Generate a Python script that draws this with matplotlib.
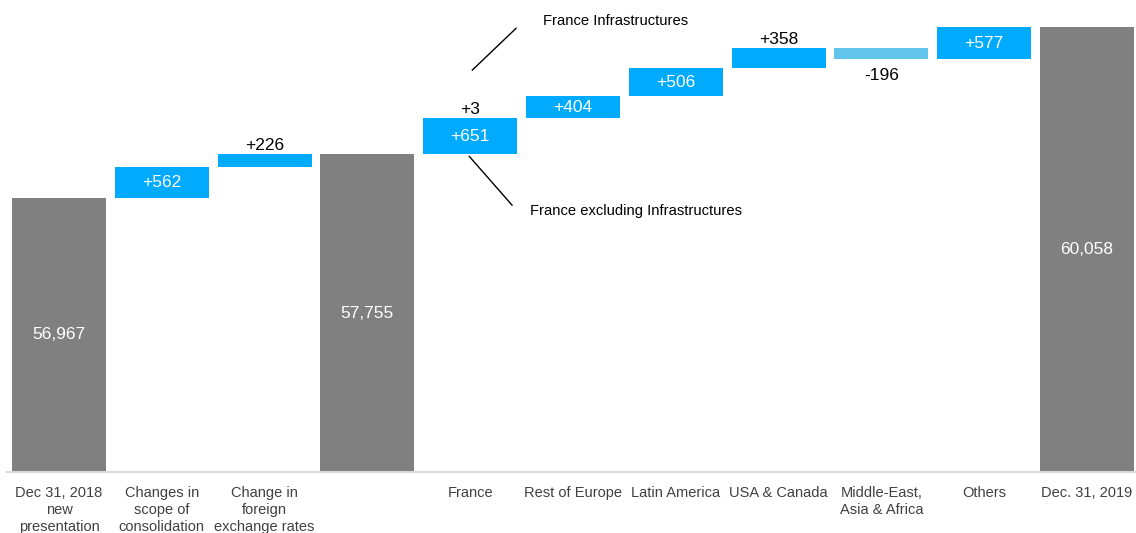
import matplotlib
matplotlib.use("Agg")
import matplotlib.pyplot as plt
from matplotlib.transforms import offset_copy

plt.rcParams['font.family'] = ['Liberation Sans', 'DejaVu Sans']

# Revenue bridge, Dec 31 2018 -> Dec 31 2019 (EUR m)
categories = ["Dec 31, 2018\nnew\npresentation", "Changes in\nscope of\nconsolidation",
              "Change in\nforeign\nexchange rates", "", "France", "Rest of Europe",
              "Latin America", "USA & Canada", "Middle-East,\nAsia & Africa", "Others",
              "Dec. 31, 2019"]
values = [56967, 562, 226, 57755, 651, 404, 506, 358, -196, 577, 60058]
kinds = ["total", "delta", "delta", "total", "delta", "delta", "delta", "delta",
         "delta", "delta", "total"]
france_infra = 3          # stacked on top of France excluding Infrastructures
label_pos = ["in", "in", "above", "in", "in", "in", "in", "above", "below", "in", "in"]

GREY = "#808080"
BLUE = "#00AAFF"
LIGHT_BLUE = "#62C3EB"
y_min, y_max = 52000, 60550

fig = plt.figure(figsize=(11.36, 5.33), dpi=100)
ax = fig.add_axes([7 / 1136, 61 / 533, 1 - 7 / 1136, 1 - 61 / 533])
ax.set_xlim(-0.506, 10.477)
ax.set_ylim(y_min, y_max)

width = 0.915
running = 0
bars = []
for i, (v, k) in enumerate(zip(values, kinds)):
    if k == "total":
        bottom, height, color = y_min, v - y_min, GREY
        running = v
    else:
        bottom, height = (running, v) if v >= 0 else (running + v, -v)
        color = BLUE if v >= 0 else LIGHT_BLUE
        running += v
    ax.bar(i, height, bottom=bottom, width=width, color=color, linewidth=0)
    bars.append((bottom, bottom + height))

    text = f"{v:,}" if k == "total" else f"{v:+,}"
    lo, hi = bottom, bottom + height
    if label_pos[i] == "in":
        ax.text(i, (lo + hi) / 2, text, ha="center", va="center", color="white", fontsize=12.5)
    elif label_pos[i] == "above":
        ax.annotate(text, (i, hi), xytext=(0, 1), textcoords="offset points",
                    ha="center", va="bottom", fontsize=12.5, color="black")
    else:
        ax.annotate(text, (i, lo), xytext=(0, -6), textcoords="offset points",
                    ha="center", va="top", fontsize=12.5, color="black")

# France Infrastructures slice on top of the France bar
fr = categories.index("France")
fr_lo, fr_hi = bars[fr]
ax.bar(fr, france_infra, bottom=fr_hi, width=width, color=BLUE, linewidth=0)
fr_top = fr_hi + france_infra
ax.annotate(f"{france_infra:+,}", (fr, fr_top), xytext=(0, 1), textcoords="offset points",
            ha="center", va="bottom", fontsize=12.5, color="black")

# Leader lines and captions for the two France components
up_start = offset_copy(ax.transData, fig=fig, x=2, y=48, units="dots")
ax.annotate("", xy=(fr, fr_top), xycoords=up_start, xytext=(44, 42),
            textcoords="offset pixels",
            arrowprops=dict(arrowstyle="-", color="black", lw=1.0, shrinkA=0, shrinkB=0))
ax.annotate("France Infrastructures", (fr, fr_top), xytext=(73, 97),
            textcoords="offset pixels", ha="left", va="center", fontsize=10.6)

down_start = offset_copy(ax.transData, fig=fig, x=-1, y=-2, units="dots")
ax.annotate("", xy=(fr, fr_lo), xycoords=down_start, xytext=(43, -49),
            textcoords="offset pixels",
            arrowprops=dict(arrowstyle="-", color="black", lw=1.0, shrinkA=0, shrinkB=0))
ax.annotate("France excluding Infrastructures", (fr, fr_lo), xytext=(60, -57),
            textcoords="offset pixels", ha="left", va="center", fontsize=10.6)

ax.set_xticks(range(len(categories)))
ax.set_xticklabels(categories, fontsize=10.5, color="#404040", linespacing=1.27)
ax.tick_params(axis="x", length=0, pad=10)
ax.set_yticks([])
for s in ["top", "right", "left"]:
    ax.spines[s].set_visible(False)
ax.spines["bottom"].set_color("#D9D9D9")
ax.spines["bottom"].set_linewidth(1.5)

fig.savefig("out.png", dpi=100)
